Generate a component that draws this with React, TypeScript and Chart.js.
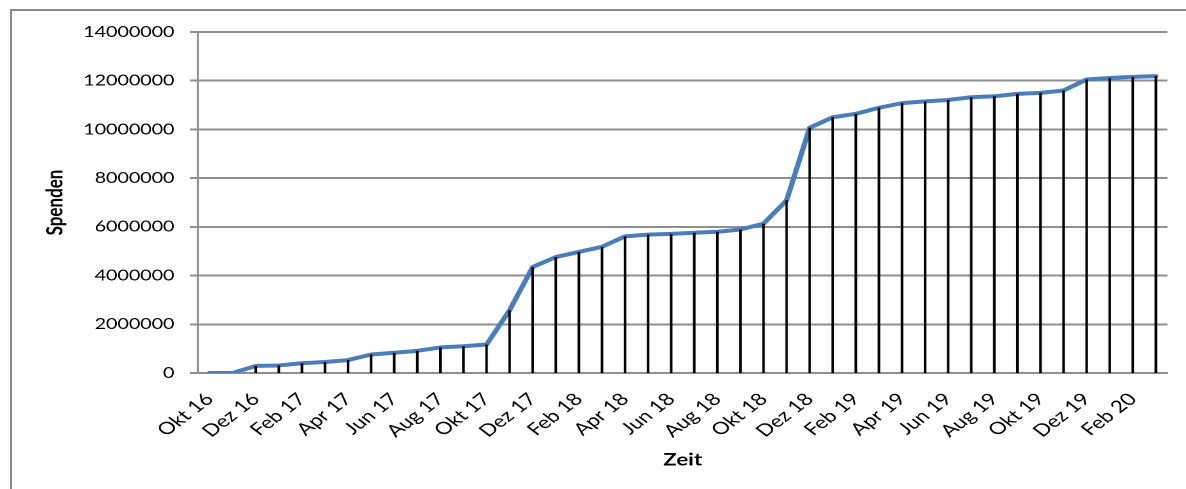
import React, { useEffect, useRef } from 'react';
import { Chart, registerables } from 'chart.js';

Chart.register(...registerables);

const categories: string[] = [
  'Okt 16', 'Nov 16', 'Dez 16',
  'Jan 17', 'Feb 17', 'Mrz 17', 'Apr 17', 'Mai 17', 'Jun 17', 'Jul 17', 'Aug 17', 'Sep 17', 'Okt 17', 'Nov 17', 'Dez 17',
  'Jan 18', 'Feb 18', 'Mrz 18', 'Apr 18', 'Mai 18', 'Jun 18', 'Jul 18', 'Aug 18', 'Sep 18', 'Okt 18', 'Nov 18', 'Dez 18',
  'Jan 19', 'Feb 19', 'Mrz 19', 'Apr 19', 'Mai 19', 'Jun 19', 'Jul 19', 'Aug 19', 'Sep 19', 'Okt 19', 'Nov 19', 'Dez 19',
  'Jan 20', 'Feb 20', 'Mrz 20',
];

const spenden: number[] = [
  0, 0, 290000,
  310000, 400000, 450000, 530000, 760000, 830000, 910000, 1050000, 1100000, 1170000, 2580000, 4350000,
  4760000, 4970000, 5180000, 5610000, 5680000, 5710000, 5760000, 5800000, 5890000, 6130000, 7090000, 10070000,
  10500000, 10640000, 10890000, 11080000, 11150000, 11210000, 11320000, 11360000, 11460000, 11500000, 11600000, 12050000,
  12110000, 12160000, 12190000,
];

const yMin = 0;
const yMax = 14000000;
const yStep = 2000000;

const yTitle = 'Spenden';
const xTitle = 'Zeit';

const STRETCH = 1.31;
const CW = 896;
const CH = 478;

const dropLines = {
  id: 'dropLines',
  afterDatasetsDraw(chart: any) {
    const meta = chart.getDatasetMeta(0);
    const ctx = chart.ctx;
    const base = chart.scales.y.getPixelForValue(0);
    ctx.save();
    ctx.strokeStyle = '#000000';
    ctx.lineWidth = 2;
    meta.data.forEach((pt: any) => {
      ctx.beginPath();
      ctx.moveTo(pt.x, pt.y);
      ctx.lineTo(pt.x, base);
      ctx.stroke();
    });
    ctx.restore();
  },
};

export default function App() {
  const canvasRef = useRef<HTMLCanvasElement | null>(null);

  useEffect(() => {
    document.body.style.overflow = 'hidden';
    const canvas = canvasRef.current;
    if (!canvas) return;
    const gridColor = '#8f8f8f';
    const chart = new Chart(canvas, {
      type: 'line',
      data: {
        labels: categories,
        datasets: [
          {
            label: yTitle,
            data: spenden,
            borderColor: '#4a7ebb',
            borderWidth: 4,
            pointRadius: 0,
            pointHoverRadius: 0,
            tension: 0,
            fill: false,
            borderJoinStyle: 'round',
            borderCapStyle: 'round',
          },
        ],
      },
      options: {
        animation: false,
        responsive: false,
        devicePixelRatio: 2,
        layout: { padding: { left: 0, right: 14, top: 20, bottom: 0 } },
        plugins: {
          legend: { display: false },
          tooltip: { enabled: false },
          title: { display: false },
        },
        scales: {
          x: {
            type: 'category',
            offset: true,
            grid: { display: false, drawTicks: false },
            border: { display: true, color: gridColor, width: 2 },
            afterFit: (scale: any) => {
              scale.height = 116;
              scale.paddingLeft = 0;
              scale.paddingRight = 0;
            },
            ticks: {
              autoSkip: false,
              minRotation: 45,
              maxRotation: 45,
              padding: 16,
              color: '#000000',
              font: { family: 'Lato', size: 17 },
              callback: (_v: any, i: number) => (i % 2 === 0 ? categories[i] : ''),
            },
            title: {
              display: true,
              text: xTitle,
              color: '#000000',
              font: { family: 'Lato', size: 17, weight: 'bold' },
              padding: { top: 0, bottom: 19 },
            },
          },
          y: {
            min: yMin,
            max: yMax,
            afterFit: (scale: any) => {
              scale.width = 142;
            },
            grid: { color: gridColor, lineWidth: 2, drawTicks: true, tickLength: 6 },
            border: { display: true, color: gridColor, width: 1.6 },
            ticks: {
              stepSize: yStep,
              padding: 12,
              color: '#000000',
              font: { family: 'Lato', size: 15 },
              callback: (v: any) => String(v),
            },
            title: {
              display: true,
              text: yTitle,
              color: '#000000',
              font: { family: 'Lato', size: 17, weight: 'bold' },
              padding: { top: 23, bottom: 0 },
            },
          },
        },
      },
      plugins: [dropLines],
    });
    return () => chart.destroy();
  }, []);

  return (
    <div>
      <div
        style={{
          position: 'absolute',
          left: 10,
          top: 9,
          width: 1176,
          height: 480,
          boxSizing: 'border-box',
          borderLeft: '2px solid #8a8a8a',
          borderTop: '2px solid #8a8a8a',
        }}
      />
      <canvas
        ref={canvasRef}
        width={CW}
        height={CH}
        style={{
          position: 'absolute',
          left: 12,
          top: 11,
          width: CW + 'px',
          height: CH + 'px',
          transform: `scaleX(${STRETCH})`,
          transformOrigin: '0 0',
        }}
      />
    </div>
  );
}
